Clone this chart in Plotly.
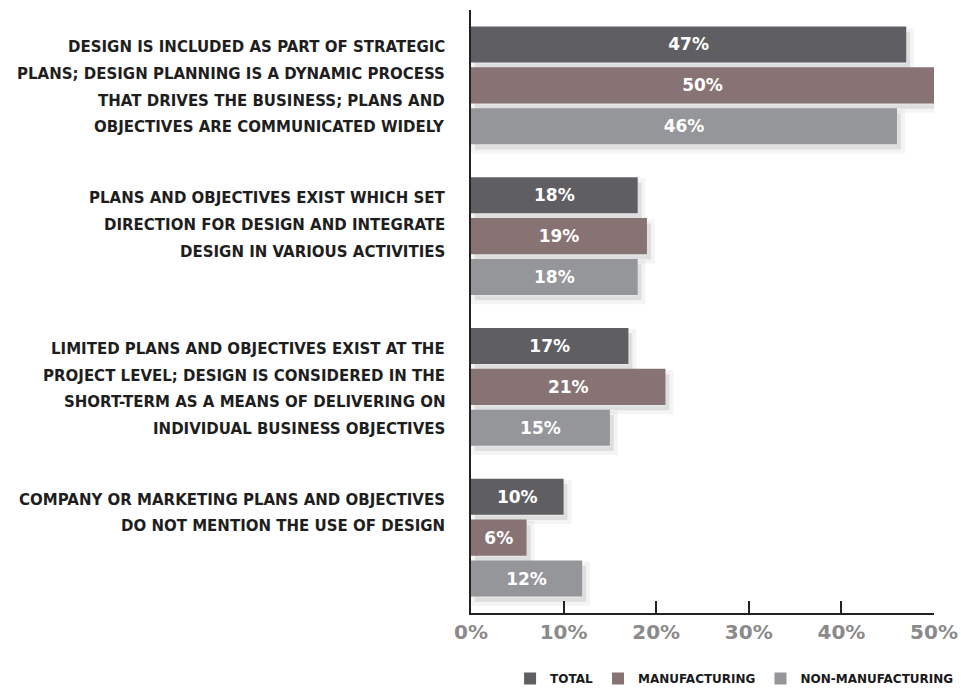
import plotly.graph_objects as go

categories = [
    ["DESIGN IS INCLUDED AS PART OF STRATEGIC",
     "PLANS; DESIGN PLANNING IS A DYNAMIC PROCESS",
     "THAT DRIVES THE BUSINESS; PLANS AND",
     "OBJECTIVES ARE COMMUNICATED WIDELY"],
    ["PLANS AND OBJECTIVES EXIST WHICH SET",
     "DIRECTION FOR DESIGN AND INTEGRATE",
     "DESIGN IN VARIOUS ACTIVITIES"],
    ["LIMITED PLANS AND OBJECTIVES EXIST AT THE",
     "PROJECT LEVEL; DESIGN IS CONSIDERED IN THE",
     "SHORT-TERM AS A MEANS OF DELIVERING ON",
     "INDIVIDUAL BUSINESS OBJECTIVES"],
    ["COMPANY OR MARKETING PLANS AND OBJECTIVES",
     "DO NOT MENTION THE USE OF DESIGN"],
]
series_names = ["TOTAL", "MANUFACTURING", "NON-MANUFACTURING"]
total = [47, 18, 17, 10]
manufacturing = [50, 19, 21, 6]
non_manufacturing = [46, 18, 15, 12]
x_ticks = [0, 10, 20, 30, 40, 50]

colors = ["#5f5f63", "#887374", "#95969a"]
FONT = "DejaVu Sans, sans-serif"

positions = list(range(len(categories)))
X_RANGE = [0, 50]
Y_RANGE = [3.5, -0.5]
# soft drop shadow: drawn on hidden base axes nudged a few pixels right/down
SHADOW_DX = 0.42
SHADOW_DY = 0.035

fig = go.Figure()
series = [total, manufacturing, non_manufacturing]

for name, vals in zip(series_names, series):
    fig.add_trace(go.Bar(
        y=positions, x=vals, orientation="h", showlegend=False,
        hoverinfo="skip", xaxis="x", yaxis="y",
        marker=dict(color="rgba(0,0,0,0.09)",
                    line=dict(color="rgba(0,0,0,0.045)", width=8)),
    ))

for name, vals, col in zip(series_names, series, colors):
    fig.add_trace(go.Bar(
        y=positions, x=vals, name=name, orientation="h",
        xaxis="x2", yaxis="y2",
        marker=dict(color=col, line=dict(width=0)),
        text=[f"{v}%" for v in vals], textposition="inside",
        insidetextanchor="middle",
        textfont=dict(family=FONT, size=17, color="white", weight="bold"),
    ))

# category labels, one annotation per line, starting level with the first bar
LINE_PITCH = 26.7
for i, lines in enumerate(categories):
    for k, line in enumerate(lines):
        fig.add_annotation(
            x=0, xref="paper", xanchor="right", xshift=-24,
            y=i, yref="y2", yanchor="middle", yshift=38 - k * LINE_PITCH,
            text=line, showarrow=False, align="right",
            font=dict(family=FONT, size=15, color="#1e1e1e", weight="bold"),
        )

hidden = dict(visible=False, showgrid=False, zeroline=False,
              fixedrange=True, automargin=False)

fig.update_layout(
    width=961, height=693,
    margin=dict(l=471, r=27, t=10, b=80, autoexpand=False),
    paper_bgcolor="white", plot_bgcolor="white",
    barmode="group", bargap=0.185, bargroupgap=0.12,
    showlegend=True,
    legend=dict(
        orientation="h", x=0.998, xref="container", xanchor="right",
        y=0.0, yref="container", yanchor="bottom",
        font=dict(family=FONT, size=12, color="#1a1a1a", weight="bold"),
        traceorder="normal", itemwidth=30,
    ),
    xaxis=dict(range=[X_RANGE[0] - SHADOW_DX, X_RANGE[1] - SHADOW_DX], **hidden),
    yaxis=dict(range=[Y_RANGE[0] - SHADOW_DY, Y_RANGE[1] - SHADOW_DY], **hidden),
    xaxis2=dict(
        overlaying="x", side="bottom", anchor="y2",
        range=X_RANGE, tickvals=x_ticks, ticktext=[f"{t}%" for t in x_ticks],
        ticks="inside", ticklen=12, tickwidth=2, tickcolor="#222",
        showline=True, linecolor="#222", linewidth=2,
        showgrid=False, zeroline=False, automargin=False,
        ticklabeloverflow="allow",
        tickfont=dict(family=FONT, size=20, color="#8a8a8a", weight="bold"),
        fixedrange=True,
    ),
    yaxis2=dict(
        overlaying="y", side="left", anchor="x2",
        range=Y_RANGE, showticklabels=False, ticks="",
        showline=True, linecolor="#222", linewidth=2,
        showgrid=False, zeroline=False, fixedrange=True, automargin=False,
    ),
)

fig.write_html("out.html")
